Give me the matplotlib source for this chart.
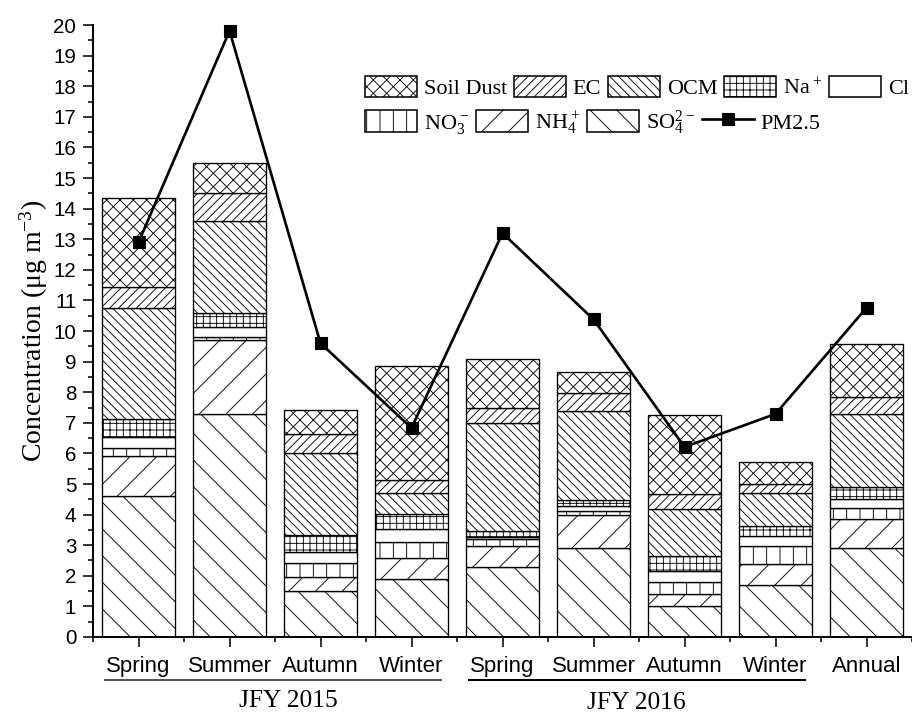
import numpy as np
import matplotlib as mpl
mpl.use('Agg')
import matplotlib.pyplot as plt
from matplotlib.patches import Patch
from matplotlib.lines import Line2D
from matplotlib.ticker import MultipleLocator, FixedLocator
from matplotlib.transforms import blended_transform_factory

# seasonal mean composition of PM2.5, ug/m3
seasons = ['Spring', 'Summer', 'Autumn', 'Winter',
           'Spring', 'Summer', 'Autumn', 'Winter', 'Annual']

so4 = [4.62, 7.30, 1.50, 1.90, 2.30, 2.90, 1.00, 1.70, 2.90]
nh4 = [1.28, 2.39, 0.47, 0.69, 0.69, 1.10, 0.40, 0.70, 0.97]
no3 = [0.29, 0.11, 0.44, 0.50, 0.21, 0.11, 0.41, 0.59, 0.35]
cl = [0.35, 0.33, 0.38, 0.44, 0.06, 0.18, 0.36, 0.32, 0.30]
na = [0.60, 0.47, 0.53, 0.49, 0.22, 0.20, 0.49, 0.33, 0.38]
ocm = [3.62, 2.98, 2.70, 0.70, 3.51, 2.90, 1.52, 1.07, 2.39]
ec = [0.69, 0.92, 0.61, 0.42, 0.48, 0.59, 0.50, 0.29, 0.56]
soil = [2.90, 0.98, 0.79, 3.71, 1.60, 0.69, 2.59, 0.72, 1.73]

pm25 = [12.9, 19.81, 9.6, 6.83, 13.2, 10.38, 6.21, 7.29, 10.76]

# (label, first bar, last bar, label x)
groups = [('JFY 2015', 0, 3, 1.65), ('JFY 2016', 4, 7, 5.47)]

# stacking order bottom -> top
comps = [
  (so4, '\\', r'SO$_4^{2-}$'),
  (nh4, '/', r'NH$_4^+$'),
  (no3, '|', r'NO$_3^-$'),
  (cl, '', r'Cl$^-$'),
  (na, '++', r'Na$^+$'),
  (ocm, '\\\\\\', 'OCM'),
  (ec, '///', 'EC'),
  (soil, 'xx', 'Soil Dust'),
]

plt.rcParams['font.family'] = 'Liberation Serif'
plt.rcParams['mathtext.default'] = 'regular'
plt.rcParams['hatch.linewidth'] = 0.8

fig = plt.figure(figsize=(11.4, 8.9125), dpi=80)
ax = fig.add_axes([0.102, 0.1066, 0.898, 0.8583])

x = np.arange(len(seasons))
bottom = np.zeros(len(seasons))
handles = {}
for vals, h, lab in comps:
  vals = np.array(vals)
  ax.bar(x, vals, 0.8, bottom=bottom, facecolor='white', edgecolor='black',
         hatch=h, linewidth=1.2, zorder=2)
  handles[lab] = Patch(facecolor='white', edgecolor='black', hatch=h, linewidth=1.4)
  bottom += vals

ax.plot(x, pm25, color='black', lw=2.4, marker='s', ms=10, zorder=5, clip_on=False)
handles['PM2.5'] = Line2D([], [], color='black', lw=2.4, marker='s', ms=10)

ax.set_xlim(-0.5, 8.5)
ax.set_ylim(0, 20)
ax.set_xticks(x)
ax.set_xticklabels(seasons)
ax.xaxis.set_minor_locator(FixedLocator(np.arange(-0.5, 8.6, 1)))
ax.yaxis.set_major_locator(MultipleLocator(1))
ax.yaxis.set_minor_locator(MultipleLocator(0.5))
for s in ['top', 'right']:
  ax.spines[s].set_visible(False)
for s in ['left', 'bottom']:
  ax.spines[s].set_linewidth(1.8)
ax.tick_params(which='major', direction='out', length=9, width=1.4,
               labelfontfamily='Liberation Sans')
ax.tick_params(which='minor', direction='out', length=4.5, width=1.4)
ax.tick_params(axis='x', labelsize=20, pad=8)
ax.tick_params(axis='y', labelsize=18.5, pad=6)
ax.set_ylabel('Concentration (μg m$^{-3}$)', fontsize=25, labelpad=3)

# year groups under the season labels
tr = blended_transform_factory(ax.transData, ax.transAxes)
for i, (name, a, b, xt) in enumerate(groups):
  col = '#555555' if i == 0 else 'black'
  ax.plot([a - 0.37, b + 0.32], [-0.07, -0.07], color=col, lw=1.8,
          transform=tr, clip_on=False)
  ax.text(xt, -0.114 - 0.003 * i, name, transform=tr, ha='center',
          va='baseline', fontsize=23)

row1 = ['Soil Dust', 'EC', 'OCM', r'Na$^+$', r'Cl$^-$']
row2 = [r'NO$_3^-$', r'NH$_4^+$', r'SO$_4^{2-}$', 'PM2.5']
kw = dict(loc='upper left', frameon=False, borderpad=0, borderaxespad=0,
          handlelength=2.35, handleheight=1.1, handletextpad=0.3,
          columnspacing=0.3, prop={'family': 'Liberation Serif', 'size': 20})
fig.legend([handles[k] for k in row1], row1, ncol=5,
           bbox_to_anchor=(365 / 912, 1 - 76 / 713), **kw)
fig.legend([handles[k] for k in row2], row2, ncol=4,
           bbox_to_anchor=(365 / 912, 1 - 108 / 713), **kw)

plt.savefig('out.png', dpi=80)
